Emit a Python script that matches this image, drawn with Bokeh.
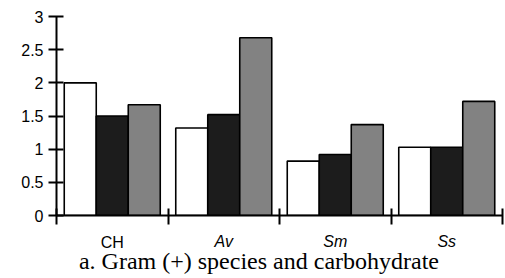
import numpy as np
from bokeh.plotting import figure
from bokeh.models import Range1d, FixedTicker, LinearAxis
from bokeh.embed import file_html
from bokeh.resources import INLINE

categories = ["CH", "Av", "Sm", "Ss"]
series_white = [2.0, 1.32, 0.82, 1.03]
series_black = [1.5, 1.52, 0.92, 1.03]
series_gray = [1.67, 2.68, 1.37, 1.72]
y_ticks = [0, 0.5, 1, 1.5, 2, 2.5, 3]
caption = "a. Gram (+) species and carbohydrate"

p = figure(frame_width=446, frame_height=199, output_backend="svg", toolbar_location=None,
           x_range=Range1d(0, len(categories)), y_range=Range1d(0, 3),
           min_border_left=56, min_border_right=3, min_border_top=16, min_border_bottom=0)
p.outline_line_color = None
p.grid.grid_line_color = None
p.background_fill_color = "white"

idx = np.arange(len(categories)) + 0.5
bw = 0.287
for off, vals, col in [(-bw, series_white, "white"), (0, series_black, "#1c1c1c"), (bw, series_gray, "#828282")]:
    p.vbar(x=idx + off, top=vals, width=bw, bottom=0, fill_color=col,
           line_color="black", line_width=1.6)

# y axis
p.yaxis.ticker = FixedTicker(ticks=y_ticks)
p.yaxis.axis_line_width = 2
p.yaxis.major_tick_line_width = 2
p.yaxis.major_tick_in = 7
p.yaxis.major_tick_out = 8
p.yaxis.minor_tick_line_color = None
p.yaxis.major_label_text_font = "Liberation Sans"
p.yaxis.major_label_text_font_size = "16px"
p.yaxis.major_label_text_color = "black"
p.yaxis.major_label_standoff = 5

labels = {float(x): c for x, c in zip(idx, categories)}

# main x axis: boundary ticks (minor) and italic species labels
xa = p.xaxis[0]
xa.ticker = FixedTicker(ticks=[float(x) for x, c in zip(idx, categories) if c != "CH"],
                        minor_ticks=list(range(len(categories) + 1)))
xa.major_label_overrides = labels
xa.axis_line_width = 2
xa.major_tick_line_color = None
xa.major_tick_out = 0
xa.major_tick_in = 0
xa.minor_tick_line_width = 2
xa.minor_tick_in = 7
xa.minor_tick_out = 9
xa.major_label_standoff = 8
xa.major_label_text_font = "Liberation Sans"
xa.major_label_text_font_size = "16px"
xa.major_label_text_font_style = "italic"
xa.major_label_text_color = "black"

# second axis for the upright "CH" label, pulled up to the same line
xb = LinearAxis(ticker=FixedTicker(ticks=[float(x) for x, c in zip(idx, categories) if c == "CH"]),
                major_label_overrides=labels)
xb.axis_line_color = None
xb.major_tick_line_color = None
xb.minor_tick_line_color = None
xb.major_tick_in = 0
xb.major_tick_out = 0
xb.major_label_standoff = -19
xb.major_label_text_font = "Liberation Sans"
xb.major_label_text_font_size = "16px"
xb.major_label_text_color = "black"
p.add_layout(xb, "below")

# caption line under the category labels
cap_x = len(categories) / 2 - 0.184
xc = LinearAxis(ticker=FixedTicker(ticks=[cap_x]), major_label_overrides={cap_x: caption})
xc.axis_line_color = None
xc.major_tick_line_color = None
xc.minor_tick_line_color = None
xc.major_tick_in = 0
xc.major_tick_out = 0
xc.major_label_standoff = -6
xc.major_label_text_font = "Liberation Serif"
xc.major_label_text_font_size = "24px"
xc.major_label_text_color = "black"
p.add_layout(xc, "below")

open("out.html", "w").write(file_html(p, INLINE))
